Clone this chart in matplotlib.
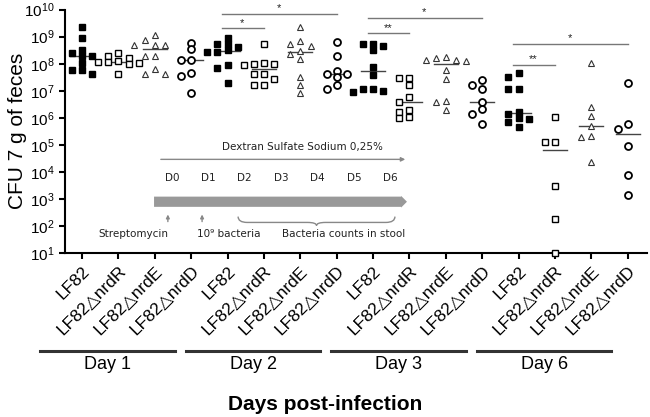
import numpy as np
import matplotlib
matplotlib.use("Agg")
import matplotlib.pyplot as plt
from matplotlib.path import Path
from matplotlib.patches import PathPatch, FancyArrow

plt.rcParams['font.family'] = ['Liberation Sans', 'DejaVu Sans']

# groups: 4 strains x 4 days, CFU / g of feces
strains = ['LF82', 'LF82\u25b3nrdR', 'LF82\u25b3nrdE', 'LF82\u25b3nrdD']
days = ['Day 1', 'Day 2', 'Day 3', 'Day 6']

day1_lf82 = [2.3e9, 8.7e8, 3.2e8, 2.5e8, 1.9e8, 1.9e8, 1.1e8, 5.9e7, 5.9e7, 4.0e7]
day1_nrdR = [2.5e8, 2.0e8, 1.6e8, 1.3e8, 1.2e8, 1.2e8, 1.1e8, 1.0e8, 4.0e7]
day1_nrdE = [1.15e9, 7.6e8, 5.0e8, 5.0e8, 5.0e8, 1.9e8, 1.9e8, 6.3e7, 4.0e7, 4.0e7]
day1_nrdD = [5.8e8, 3.5e8, 1.4e8, 1.4e8, 4.4e7, 3.5e7, 8.1e6]

day2_lf82 = [9.3e8, 5.4e8, 5.4e8, 4.0e8, 3.2e8, 2.8e8, 2.8e8, 9.3e7, 7.1e7, 2.0e7]
day2_nrdR = [5.2e8, 1.1e8, 1.0e8, 9.5e7, 9.0e7, 4.3e7, 4.0e7, 2.8e7, 1.7e7, 1.7e7]
day2_nrdE = [2.2e9, 6.9e8, 5.2e8, 4.6e8, 2.9e8, 2.3e8, 1.5e8, 3.3e7, 1.7e7, 8.1e6]
day2_nrdD = [6.6e8, 2.0e8, 5.4e7, 4.2e7, 4.0e7, 3.2e7, 1.7e7, 1.2e7]

day3_lf82 = [5.4e8, 5.2e8, 4.4e8, 3.1e8, 7.4e7, 3.8e7, 1.2e7, 1.2e7, 1.0e7, 9.1e6]
day3_nrdR = [3.0e7, 3.0e7, 1.7e7, 6.0e6, 4.0e6, 1.9e6, 1.6e6, 1.05e6, 9.8e5]
day3_nrdE = [1.7e8, 1.6e8, 1.4e8, 1.4e8, 1.3e8, 6.0e7, 2.8e7, 4.3e6, 3.7e6, 1.9e6]
day3_nrdD = [2.6e7, 1.7e7, 1.2e7, 3.7e6, 2.2e6, 1.4e6, 5.8e5]

day6_lf82 = [4.4e7, 3.3e7, 1.2e7, 1.2e7, 1.6e6, 1.4e6, 1.0e6, 9.1e5, 7.2e5, 4.6e5]
day6_nrdR = [1.05e6, 1.3e5, 1.3e5, 3.1e3, 1.9e2, 1.0e1]
day6_nrdE = [1.07e8, 2.6e6, 1.2e6, 4.9e5, 2.2e5, 1.9e5, 2.4e4]
day6_nrdD = [2.0e7, 6.0e5, 4.0e5, 9.1e4, 7.8e3, 1.45e3]

groups = [day1_lf82, day1_nrdR, day1_nrdE, day1_nrdD,
          day2_lf82, day2_nrdR, day2_nrdE, day2_nrdD,
          day3_lf82, day3_nrdR, day3_nrdE, day3_nrdD,
          day6_lf82, day6_nrdR, day6_nrdE, day6_nrdD]

# significance: (first group, second group, stars)
comparisons = [(4, 7, '*'), (4, 5, '*'), (8, 11, '*'), (8, 9, '**'),
               (12, 15, '*'), (12, 13, '**')]
comp_heights = [7.1e9, 2.05e9, 5.0e9, 1.32e9, 5.4e8, 9.1e7]

timeline_days = ['D0', 'D1', 'D2', 'D3', 'D4', 'D5', 'D6']

styles = [dict(marker='s', mfc='black', mec='black', ms=5, mew=1),
          dict(marker='s', mfc='white', mec='black', ms=5, mew=1),
          dict(marker='^', mfc='white', mec='#333333', ms=5, mew=0.8),
          dict(marker='o', mfc='white', mec='black', ms=5, mew=1.3)]


def swarm(vals, step=0.28, gap=0.2):
    # spread points that sit close in log space sideways
    logv = np.log10(vals)
    offs = np.zeros(len(logv))
    placed = []
    for i in np.argsort(-logv):
        for k in [0, -1, 1, -2, 2, -3, 3]:
            dx = k * step
            if all(abs(logv[i] - y) >= gap or abs(dx - x) >= step * 0.9 for x, y in placed):
                break
        offs[i] = dx
        placed.append((dx, logv[i]))
    return offs


fig = plt.figure(figsize=(6.5, 4.17), dpi=100)
ax = fig.add_axes([0.1, 0.393, 0.895, 0.584])

for g, vals in enumerate(groups):
    vals = np.array(vals)
    x = g + swarm(vals)
    ax.plot(x, vals, linestyle='none', zorder=3, clip_on=False, **styles[g % 4])
    med = np.median(vals)
    ax.plot([g - 0.33, g + 0.33], [med, med], color='#444444', lw=1, zorder=2)

for (a, b, stars), h in zip(comparisons, comp_heights):
    ax.plot([a - 0.15, b + 0.0], [h, h], color='#777777', lw=1, clip_on=False)
    ax.text((a + b) / 2 - 0.1, h * 1.05, stars, ha='center', va='bottom', fontsize=8,
            color='#222222')

ax.set_yscale('log')
ax.set_ylim(10, 1e10)
ax.set_xlim(-0.467, 15.52)
ax.set_yticks([10.0 ** k for k in range(1, 11)])
ax.set_yticklabels([r'$\mathdefault{10^{%d}}$' % k for k in range(1, 11)], fontsize=11)
ax.yaxis.set_minor_locator(matplotlib.ticker.NullLocator())
ax.set_xticks(range(16))
ax.set_xticklabels(strains * 4, rotation=45, ha='right', rotation_mode='anchor',
                   fontsize=12.5)
ax.set_ylabel('CFU 7 g of feces', fontsize=15)
ax.yaxis.set_label_coords(-0.066, 0.5)
for s in ['top', 'right']:
    ax.spines[s].set_visible(False)
for s in ['left', 'bottom']:
    ax.spines[s].set_linewidth(1.5)
ax.tick_params(width=1.5, length=4)

# day groups below the tick labels
tr = ax.get_xaxis_transform()
for d, name in enumerate(days):
    x0 = 4 * d - 1.15
    x1 = 4 * d + 2.55
    ax.plot([x0, x1], [-0.40, -0.40], transform=tr, color='#333333', lw=2.2, clip_on=False)
    ax.text((x0 + x1) / 2, -0.457, name, transform=tr, ha='center', va='center',
            fontsize=13)
fig.text(0.5, 0.029, 'Days post-infection', ha='center', va='center',
         fontsize=15, fontweight='bold')

# experiment timeline inset
ifont = dict(family='DejaVu Sans', fontsize=7.5, color='#222222')
ax.text(6.07, 0.437, 'Dextran Sulfate Sodium 0,25%', transform=tr, ha='center',
        va='center', **ifont)
ax.annotate('', xy=(8.96, 0.385), xytext=(2.09, 0.385), xycoords=tr,
            arrowprops=dict(arrowstyle='-|>', color='#888888', lw=1, mutation_scale=6))
for k, lab in enumerate(timeline_days):
    ax.text(2.47 + k, 0.308, lab, transform=tr, ha='center', va='center', **ifont)
ax.add_patch(FancyArrow(1.98, 0.211, 6.95, 0, width=0.042, head_width=0.048,
                        head_length=0.16, length_includes_head=True, transform=tr,
                        color='#999999', lw=0, clip_on=False))
for xa in [2.36, 3.30]:
    ax.annotate('', xy=(xa, 0.170), xytext=(xa, 0.118), xycoords=tr,
                arrowprops=dict(arrowstyle='-|>', color='#888888', lw=1, mutation_scale=5))

bx0, bx1, yt, yb, yl, r = 4.29, 8.60, 0.150, 0.126, 0.113, 0.25
bxm = (bx0 + bx1) / 2
verts = [(bx0, yt), (bx0, yb), (bx0 + r, yb), (bxm - r, yb), (bxm, yb), (bxm, yl),
         (bxm, yb), (bxm + r, yb), (bx1 - r, yb), (bx1, yb), (bx1, yt)]
codes = [Path.MOVETO, Path.CURVE3, Path.CURVE3, Path.LINETO, Path.CURVE3, Path.CURVE3,
         Path.CURVE3, Path.CURVE3, Path.LINETO, Path.CURVE3, Path.CURVE3]
ax.add_patch(PathPatch(Path(verts, codes), transform=tr, fill=False,
                       edgecolor='#888888', lw=1))

ax.text(1.40, 0.078, 'Streptomycin', transform=tr, ha='center', va='center', **ifont)
ax.text(4.04, 0.078, '10\u2079 bacteria', transform=tr, ha='center', va='center', **ifont)
ax.text(7.20, 0.078, 'Bacteria counts in stool', transform=tr, ha='center',
        va='center', **ifont)

fig.savefig('out.png', dpi=100)
